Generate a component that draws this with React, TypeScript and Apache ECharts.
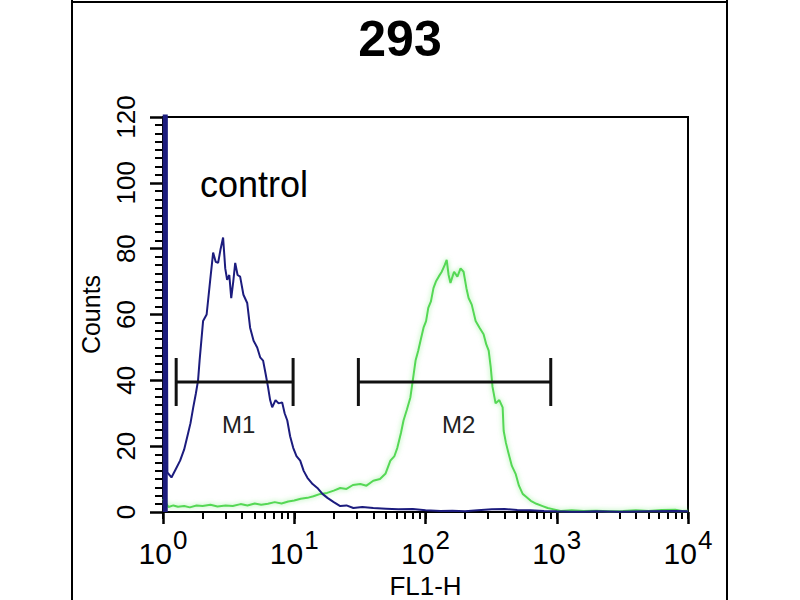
import React, { useEffect, useRef } from "react";
import * as echarts from "echarts";

// ---- data ----
const chartTitle = "293";
const sampleLabel = "control";
const xAxisName = "FL1-H";
const yAxisName = "Counts";
const yTicks = [0, 20, 40, 60, 80, 100, 120];
const decadeTicks = [1, 10, 100, 1000, 10000];
const minorTickValues = [
  1, 2, 3, 4, 5, 6, 7, 8, 9,
  10, 20, 30, 40, 50, 60, 70, 80, 90,
  100, 200, 300, 400, 500, 600, 700, 800, 900,
  1000, 2000, 3000, 4000, 5000, 6000, 7000, 8000, 9000, 10000,
];

// control first (off-scale) channel: [FL1-H, counts]
const controlOffscale: [number, number][] = [
  [1.04, 0], [1.04, 130],
];

// control histogram (blue): [FL1-H, counts]
const controlHist: [number, number][] = [
  [1.06, 130], [1.08, 12], [1.16, 10.5], [1.25, 13], [1.35, 15.6], [1.45, 19],
  [1.55, 23.8], [1.62, 27], [1.7, 31.8], [1.78, 36], [1.85, 40], [1.9, 46], [2.02, 58],
  [2.15, 60], [2.29, 70.5], [2.41, 78.8], [2.52, 76], [2.63, 75.7], [2.75, 80], [2.87, 83.4],
  [2.98, 74], [3.08, 70.5], [3.2, 72], [3.31, 65], [3.43, 70], [3.55, 75.7], [3.7, 72],
  [3.87, 71.5], [4.1, 66], [4.38, 63.5], [4.61, 56], [4.9, 52], [5.22, 50], [5.5, 47],
  [5.79, 46], [6.05, 42], [6.31, 38], [6.55, 34], [6.79, 31.8], [7.2, 34], [7.6, 33],
  [8.09, 33.3], [8.45, 30], [8.85, 27.8], [9.3, 23], [9.82, 19.5], [10.4, 17], [11.1, 15.6],
  [11.8, 12.5], [12.6, 10.4], [13.8, 8.5], [15.0, 7.3], [16.4, 5.5], [17.9, 4.3], [20.0, 3],
  [22.4, 1.8], [25, 2], [28.2, 1.2], [33, 1.5], [40, 1.2], [50, 1.0], [62, 0.8], [80, 0.9],
  [100, 0.5], [130, 0.3], [160, 0.4], [200, 0.2], [250, 0.5], [320, 0.8], [400, 0.9],
  [500, 0.6], [630, 0.5], [800, 0.3], [1000, 0.2], [1300, 0.1], [1600, 0.1], [2000, 0.2],
  [3000, 0.1], [5000, 0.2], [8000, 0.3], [10000, 0.2],
];

// 293 sample histogram (green): [FL1-H, counts]
const sampleHist: [number, number][] = [
  [1.0, 4], [1.04, 3], [1.1, 1.5], [1.2, 2], [1.3, 1.6], [1.45, 1.8], [1.6, 1.4], [1.8, 2],
  [2.0, 1.8], [2.3, 2.2], [2.6, 1.7], [3.0, 2.0], [3.4, 1.8], [3.9, 2.4], [4.4, 2.0],
  [5.0, 2.6], [5.6, 2.2], [6.3, 2.5], [7.1, 3.0], [8.0, 2.6], [9.0, 3.2], [10, 3.5],
  [11.2, 4.0], [12.6, 4.3], [14, 4.8], [15.8, 5.5], [17.8, 5.8], [20, 6.5], [22.4, 7.3],
  [25, 7.0], [28, 8.2], [31.9, 8.5], [35.5, 8.0], [40, 9.5], [45, 10], [49.5, 11.6],
  [54, 15.6], [58, 17], [61, 19.5], [65, 24], [68, 27.8], [72, 31], [76.7, 34.8], [80, 40],
  [84, 46], [88, 49], [91.6, 52], [96.6, 56], [101, 58], [105, 62], [110, 64], [115, 68],
  [120, 70], [126, 71.5], [133, 73], [140, 75], [145, 76.6], [150, 72], [155, 69.6],
  [165, 73], [175, 71.5], [185, 74], [195, 73], [205, 68], [213, 65], [225, 63], [241, 58],
  [258, 56], [277, 54], [290, 51], [303, 49], [314, 44], [324, 38], [342, 33], [365, 34],
  [387, 31.8], [394, 24.7], [410, 21], [430, 17.7], [455, 14], [486, 11.6], [515, 8],
  [550, 5.5], [590, 4.5], [634, 3.4], [700, 2.5], [780, 1.8], [853, 1.2], [950, 0.8],
  [1070, 0.3], [1300, 0.5], [1600, 0.3], [2000, 0.4], [2500, 0.2], [3200, 0.3], [4000, 0.5],
  [5000, 0.3], [6300, 0.6], [8000, 0.7], [9000, 0.3], [10000, 0.4],
];

// marker gates
const gateNames = ["M1", "M2"];
const gateLow = [1.26, 30.8];
const gateHigh = [9.8, 900];
const gateLevel = [39.5, 39.5];

const FONT = "'Liberation Sans', Arial, Helvetica, sans-serif";
const NARROW = "'Liberation Sans Narrow', 'Arial Narrow', 'Liberation Sans', Arial, sans-serif";

export default function App() {
  const ref = useRef<HTMLDivElement>(null);

  useEffect(() => {
    if (!ref.current) return;
    const chart = echarts.init(ref.current, undefined, { renderer: "svg" });

    const gateData = gateNames.map((_, i) => [gateLow[i], gateHigh[i], gateLevel[i]]);

    const option: any = {
      animation: false,
      backgroundColor: "#ffffff",
      title: {
        text: chartTitle,
        left: "center",
        top: 9,
        textStyle: { fontSize: 50, fontWeight: "bold", color: "#000", fontFamily: FONT },
      },
      grid: {
        left: 163,
        right: 112,
        top: 117,
        bottom: 88,
        containLabel: false,
        outerBoundsMode: "none",
        show: true,
        borderColor: "#000",
        borderWidth: 2,
        backgroundColor: "#ffffff",
      },
      xAxis: [
        {
          type: "log",
          logBase: 10,
          min: 1,
          max: 10000,
          position: "bottom",
          name: xAxisName,
          nameLocation: "middle",
          nameGap: 50,
          nameTextStyle: { fontSize: 26, lineHeight: 26, color: "#000", fontFamily: NARROW },
          axisLine: { show: true, onZero: false, lineStyle: { color: "#000", width: 2 } },
          axisTick: {
            show: true,
            inside: false,
            length: 7,
            customValues: minorTickValues,
            lineStyle: { color: "#000", width: 2 },
          },
          axisLabel: {
            show: true,
            margin: 14,
            customValues: decadeTicks,
            formatter: (v: number) => `{b|10}{s|${Math.round(Math.log10(v))}}`,
            rich: {
              b: { fontSize: 30, fontFamily: NARROW, color: "#000", padding: [12, 0, 0, 0] },
              s: { fontSize: 26, fontFamily: NARROW, color: "#000", padding: [0, 0, 14, 1] },
            },
          },
          splitLine: { show: false },
        },
        {
          type: "log",
          logBase: 10,
          min: 1,
          max: 10000,
          position: "bottom",
          axisLine: { show: false },
          axisTick: {
            show: true,
            length: 12,
            customValues: decadeTicks,
            lineStyle: { color: "#000", width: 2.5 },
          },
          axisLabel: { show: false },
          splitLine: { show: false },
        },
      ],
      yAxis: {
        type: "value",
        min: yTicks[0],
        max: yTicks[yTicks.length - 1],
        interval: 20,
        name: yAxisName,
        nameLocation: "middle",
        nameGap: 60,
        nameRotate: 90,
        nameTextStyle: { fontSize: 25, color: "#000", fontFamily: FONT },
        axisLine: { show: true, lineStyle: { color: "#000", width: 2 } },
        axisTick: { show: true, length: 13, lineStyle: { color: "#000", width: 2.5 } },
        minorTick: { show: true, splitNumber: 8, length: 8, lineStyle: { color: "#000", width: 2 } },
        axisLabel: {
          rotate: 90,
          fontSize: 26,
          margin: 24,
          color: "#000",
          fontFamily: FONT,
        },
        splitLine: { show: false },
        minorSplitLine: { show: false },
      },
      series: [
        {
          type: "line",
          name: "293",
          xAxisIndex: 0,
          data: sampleHist,
          symbol: "none",
          clip: true,
          lineStyle: {
            color: "#55d855",
            width: 2,
            shadowColor: "rgba(130,235,130,0.8)",
            shadowBlur: 5,
          },
          z: 2,
        },
        {
          type: "line",
          name: "control offscale",
          xAxisIndex: 0,
          data: controlOffscale,
          symbol: "none",
          clip: true,
          lineStyle: { color: "#1c1c7e", width: 5 },
          z: 3,
        },
        {
          type: "line",
          name: "control",
          xAxisIndex: 0,
          data: controlHist,
          symbol: "none",
          clip: true,
          lineStyle: { color: "#1c1c7e", width: 2 },
          z: 3,
        },
        {
          type: "custom",
          xAxisIndex: 0,
          clip: false,
          z: 4,
          data: gateData,
          encode: { x: [0, 1], y: 2 },
          renderItem: (params: any, api: any) => {
            const lo = api.value(0);
            const hi = api.value(1);
            const lv = api.value(2);
            const a = api.coord([lo, lv]);
            const b = api.coord([hi, lv]);
            const mid = api.coord([Math.sqrt(lo * hi), lv]);
            const cap = 24;
            const ls = { stroke: "#111", lineWidth: 3 };
            return {
              type: "group",
              children: [
                { type: "line", shape: { x1: a[0], y1: a[1], x2: b[0], y2: b[1] }, style: ls },
                { type: "line", shape: { x1: a[0], y1: a[1] - cap, x2: a[0], y2: a[1] + cap }, style: ls },
                { type: "line", shape: { x1: b[0], y1: b[1] - cap, x2: b[0], y2: b[1] + cap }, style: ls },
                {
                  type: "text",
                  x: mid[0] + 4,
                  y: mid[1] + 43,
                  style: {
                    text: gateNames[params.dataIndex],
                    fontSize: 24,
                    fontFamily: FONT,
                    fill: "#222",
                    align: "center",
                    verticalAlign: "middle",
                  },
                },
              ],
            };
          },
        },
      ],
      graphic: [
        { type: "line", shape: { x1: 72, y1: 0, x2: 72, y2: 600 }, style: { stroke: "#000", lineWidth: 2 } },
        { type: "line", shape: { x1: 727, y1: 0, x2: 727, y2: 600 }, style: { stroke: "#000", lineWidth: 2 } },
        { type: "line", shape: { x1: 72, y1: 2, x2: 727, y2: 2 }, style: { stroke: "#000", lineWidth: 2 } },
        {
          type: "text",
          left: 200,
          top: 166,
          style: { text: sampleLabel, fontSize: 36, fontFamily: FONT, fill: "#000" },
        },
      ],
    };

    chart.setOption(option);
    return () => chart.dispose();
  }, []);

  return (
    <div
      ref={ref}
      style={{ position: "fixed", left: 0, top: 0, width: 800, height: 600, background: "#fff" }}
    />
  );
}
